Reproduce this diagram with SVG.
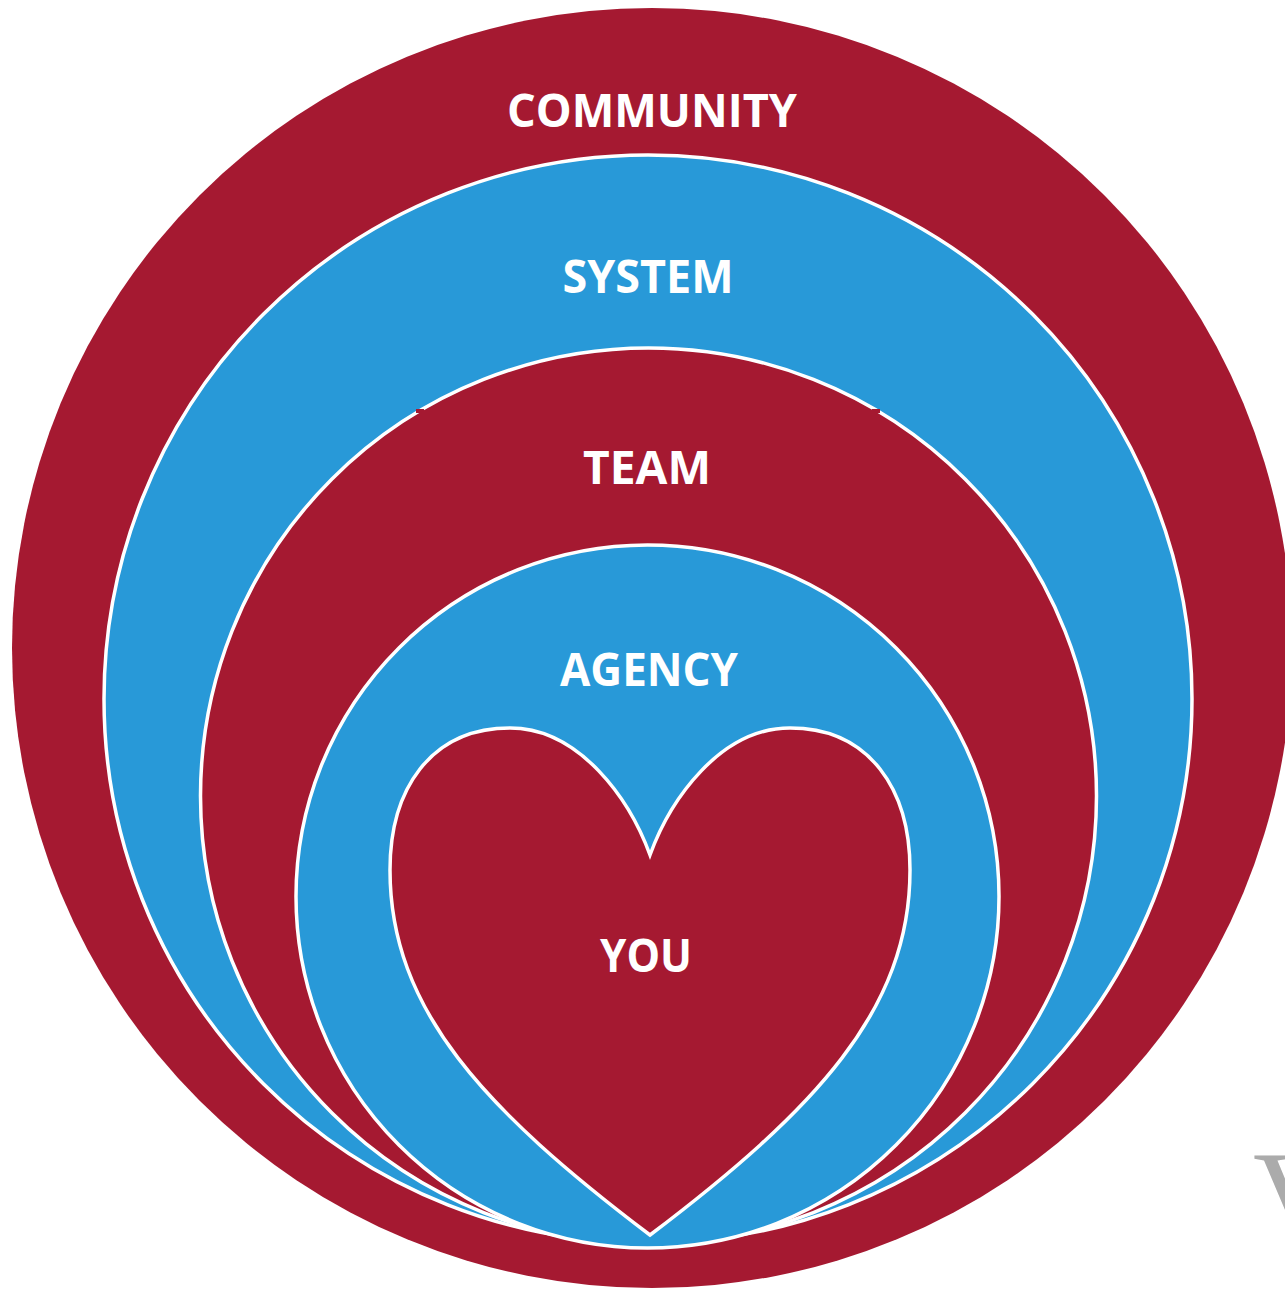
<svg xmlns="http://www.w3.org/2000/svg" width="1285" height="1291" viewBox="0 0 1285 1291">
  <style>
    .red { fill: #A51931; }
    .blue { fill: #2899D8; }
    .ring { stroke: #FFFFFF; stroke-width: 3.5; }
    .label { font-family: "Open Sans", "Liberation Sans", sans-serif; font-weight: 700; font-size: 47px; fill: #FFFFFF; text-anchor: middle; }
  </style>
  <rect width="1285" height="1291" fill="#FFFFFF"/>

  <!-- faint letter at lower right edge -->
  <text x="1253" y="1240" font-family="'Liberation Serif', serif" font-size="130" fill="#ABABAB">V</text>

  <g id="community">
    <circle class="red" cx="652" cy="648" r="640"/>
    <text class="label" x="652" y="127" textLength="290" lengthAdjust="spacingAndGlyphs">COMMUNITY</text>
  </g>

  <g id="system">
    <circle class="blue ring" cx="648" cy="699" r="544"/>
    <text class="label" x="648" y="293" textLength="171" lengthAdjust="spacingAndGlyphs">SYSTEM</text>
  </g>

  <g id="team">
    <circle class="red ring" cx="648.5" cy="796" r="448"/>
    <rect class="red" x="416" y="409" width="8" height="4"/>
    <rect class="red" x="872" y="409" width="8" height="4"/>
    <text class="label" x="647" y="484" textLength="128" lengthAdjust="spacingAndGlyphs">TEAM</text>
  </g>

  <g id="agency">
    <circle class="blue ring" cx="647.5" cy="896.5" r="351.5"/>
    <text class="label" x="649" y="686" textLength="178" lengthAdjust="spacingAndGlyphs">AGENCY</text>
  </g>

  <g id="you">
    <path class="red ring" stroke-linejoin="miter" d="M 650 855 C 670 800, 720 728, 790 728 C 870 728, 910 790, 910 870 C 910 1010, 815 1110, 650 1235 C 485 1110, 390 1010, 390 870 C 390 790, 430 728, 510 728 C 580 728, 630 800, 650 855 Z"/>
    <text class="label" x="646" y="972" textLength="92" lengthAdjust="spacingAndGlyphs">YOU</text>
  </g>

  <g id="connectors"/>
</svg>
